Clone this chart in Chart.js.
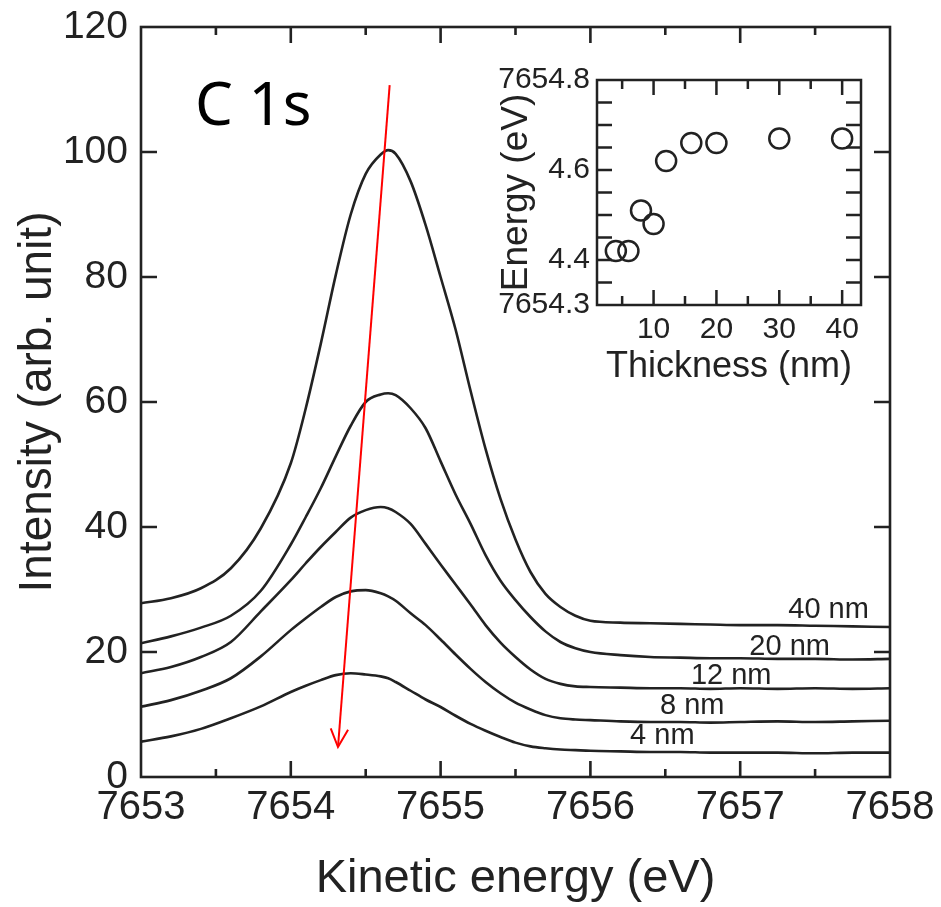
<!DOCTYPE html>
<html>
<head>
<meta charset="utf-8">
<title>C 1s</title>
<script src="https://cdn.jsdelivr.net/npm/chart.js@4.4.1/dist/chart.umd.min.js"></script>
<style>
    body { margin: 0; background: #fff; }
    #wrap { position: relative; width: 941px; height: 907px; }
    #mainChart { position: absolute; left: 0; top: 0; }
    #insetChart { position: absolute; left: 470px; top: 50px; }
</style>
</head>
<body>
<div id="wrap">
    <canvas id="mainChart" width="941" height="907"></canvas>
    <canvas id="insetChart" width="410" height="350"></canvas>
</div>
<script>
// -----------------------------------------
// Daten: Spektren
// -----------------------------------------
const energy = [7653.0, 7653.2, 7653.4, 7653.6, 7653.8,
    7654.0, 7654.1, 7654.2, 7654.3, 7654.4, 7654.5, 7654.6, 7654.65, 7654.7, 7654.8, 7654.9,
    7655.0, 7655.1, 7655.2, 7655.3, 7655.4, 7655.5, 7655.6, 7655.7, 7655.8, 7655.9,
    7656.0, 7656.2, 7656.4, 7656.6, 7656.8, 7657.0, 7657.25, 7657.5, 7657.75, 7658.0];

const int40 = [27.8, 28.6, 30.2, 33.4, 39.8,
    50.2, 59.0, 69.3, 80.3, 90.0, 96.5, 99.6, 100.3, 99.7, 95.3, 88.3,
    80.0, 71.6, 61.8, 52.5, 44.5, 38.0, 32.8, 29.3, 27.2, 25.8,
    25.0, 24.7, 24.6, 24.5, 24.4, 24.3, 24.3, 24.2, 24.1, 24.0];

const int20 = [21.4, 22.5, 23.9, 25.8, 29.8,
    37.2, 41.6, 46.2, 51.3, 56.2, 60.0, 61.2, 61.4, 61.1, 59.0, 55.8,
    50.5, 45.2, 40.5, 35.5, 31.4, 28.3, 25.6, 23.3, 21.6, 20.6,
    20.0, 19.5, 19.2, 19.1, 19.0, 19.0, 18.9, 18.9, 18.8, 18.9];

const int12 = [16.6, 17.6, 19.2, 21.6, 26.5,
    31.5, 34.2, 36.8, 39.2, 41.5, 42.7, 43.2, 43.0, 42.4, 40.5, 37.3,
    34.0, 30.8, 27.6, 24.3, 21.5, 19.2, 17.2, 15.7, 14.9, 14.5,
    14.4, 14.3, 14.2, 14.2, 14.1, 14.2, 14.1, 14.2, 14.1, 14.2];

const int8 = [11.25, 12.3, 13.8, 15.8, 19.3,
    23.5, 25.4, 27.2, 28.8, 29.7, 29.9, 29.4, 28.9, 28.2, 26.2, 24.3,
    22.0, 19.6, 17.3, 15.2, 13.4, 11.9, 10.8, 9.9, 9.4, 9.2,
    9.1, 8.9, 8.8, 8.8, 8.7, 8.8, 8.9, 8.8, 8.9, 9.0];

const int4 = [5.65, 6.5, 7.7, 9.4, 11.3,
    13.6, 14.6, 15.5, 16.3, 16.6, 16.4, 16.1, 15.8, 15.2, 13.8, 12.4,
    11.2, 9.8, 8.5, 7.4, 6.4, 5.5, 4.9, 4.6, 4.4, 4.3,
    4.2, 4.1, 4.0, 4.0, 3.9, 3.9, 3.9, 3.8, 3.9, 3.9];

// Beschriftungen der Kurven (Mitte x, Mitte y in Datenkoordinaten)
const curveLabels = ["40 nm", "20 nm", "12 nm", "8 nm", "4 nm"];
const curveLabelX = [7657.59, 7657.33, 7656.94, 7656.68, 7656.48];
const curveLabelY = [26.8, 20.8, 16.2, 11.3, 6.5];

// roter Pfeil
const arrowX = [7654.66, 7654.315];
const arrowY = [110.7, 4.8];

// Achsen Hauptdiagramm
const xTicksMain = [7653, 7654, 7655, 7656, 7657, 7658];
const xMinorMain = [7653.5, 7654.5, 7655.5, 7656.5, 7657.5];
const yTicksMain = [20, 40, 60, 80, 100];

// -----------------------------------------
// Daten: Inset
// -----------------------------------------
const thickness = [4, 6, 8, 10, 12, 16, 20, 30, 40];
const peakEnergy = [7654.42, 7654.42, 7654.51, 7654.48, 7654.62, 7654.66, 7654.66, 7654.67, 7654.67];

const xTicksInset = [10, 20, 30, 40];
const xMinorInset = [5, 15, 25, 35];
const yTicksInset = [7654.35, 7654.4, 7654.45, 7654.5, 7654.55, 7654.6, 7654.65, 7654.7, 7654.75];
const yLabelValues = [7654.3, 7654.4, 7654.6, 7654.8];
const yLabelTexts = ["7654.3", "4.4", "4.6", "7654.8"];

const ink = "#222222";
const fontFamily = "'Liberation Sans', Arial, sans-serif";

function pts(xs, ys) {
    return xs.map((x, i) => ({ x: x, y: ys[i] }));
}

// -----------------------------------------
// Rahmen und Ticks nach innen
// -----------------------------------------
const frameTicks = {
    id: "frameTicks",
    afterDraw(chart, args, o) {
        const { ctx, chartArea: a, scales } = chart;
        ctx.save();
        ctx.strokeStyle = ink;
        ctx.lineWidth = o.lineWidth;
        ctx.strokeRect(a.left, a.top, a.right - a.left, a.bottom - a.top);
        ctx.beginPath();
        const xMarks = (vals, len) => {
            vals.forEach(v => {
                const px = scales.x.getPixelForValue(v);
                ctx.moveTo(px, a.bottom); ctx.lineTo(px, a.bottom - len);
                ctx.moveTo(px, a.top); ctx.lineTo(px, a.top + len);
            });
        };
        const yMarks = (vals, len) => {
            vals.forEach(v => {
                const py = scales.y.getPixelForValue(v);
                ctx.moveTo(a.left, py); ctx.lineTo(a.left + len, py);
                ctx.moveTo(a.right, py); ctx.lineTo(a.right - len, py);
            });
        };
        xMarks(o.xMajor, o.majorLen);
        xMarks(o.xMinor, o.minorLen);
        yMarks(o.yMajor, o.yLen);
        ctx.stroke();
        ctx.restore();
    }
};

// -----------------------------------------
// Texte und Pfeilspitze
// -----------------------------------------
const annotations = {
    id: "annotations",
    afterDraw(chart) {
        const { ctx, scales: { x, y } } = chart;
        ctx.save();

        ctx.fillStyle = "#000";
        ctx.font = "60px 'Noto Sans', 'Open Sans', sans-serif";
        ctx.textAlign = "left";
        ctx.textBaseline = "alphabetic";
        ctx.fillText("C 1s", x.getPixelForValue(7653.36), y.getPixelForValue(104.3));

        ctx.fillStyle = ink;
        ctx.font = "29px " + fontFamily;
        ctx.textAlign = "center";
        ctx.textBaseline = "middle";
        curveLabels.forEach((t, i) => {
            ctx.fillText(t, x.getPixelForValue(curveLabelX[i]), y.getPixelForValue(curveLabelY[i]));
        });

        // Pfeilspitze
        const x0 = x.getPixelForValue(arrowX[0]), y0 = y.getPixelForValue(arrowY[0]);
        const x1 = x.getPixelForValue(arrowX[1]), y1 = y.getPixelForValue(arrowY[1]);
        const ang = Math.atan2(y1 - y0, x1 - x0);
        const len = 20, spread = 0.45;
        ctx.strokeStyle = "#ff0000";
        ctx.lineWidth = 2;
        ctx.beginPath();
        ctx.moveTo(x1 - len * Math.cos(ang - spread), y1 - len * Math.sin(ang - spread));
        ctx.lineTo(x1, y1);
        ctx.lineTo(x1 - len * Math.cos(ang + spread), y1 - len * Math.sin(ang + spread));
        ctx.stroke();
        ctx.restore();
    }
};

function curve(data) {
    return {
        data: pts(energy, data),
        borderColor: ink,
        borderWidth: 2.6,
        pointRadius: 0,
        cubicInterpolationMode: "monotone",
        fill: false
    };
}

// -----------------------------------------
// Hauptdiagramm
// -----------------------------------------
new Chart(document.getElementById("mainChart"), {
    type: "line",
    data: {
        datasets: [
            {
                data: pts(arrowX, arrowY),
                borderColor: "#ff0000",
                borderWidth: 2,
                pointRadius: 0,
                tension: 0
            },
            curve(int40), curve(int20), curve(int12), curve(int8), curve(int4)
        ]
    },
    options: {
        responsive: false,
        animation: false,
        devicePixelRatio: 1,
        layout: { padding: { left: 0, top: 27, right: 51, bottom: 0 } },
        plugins: {
            legend: { display: false },
            tooltip: { enabled: false },
            frameTicks: {
                lineWidth: 2.6,
                xMajor: xTicksMain.slice(1, -1), xMinor: xMinorMain,
                yMajor: yTicksMain,
                majorLen: 16, minorLen: 8, yLen: 16
            }
        },
        scales: {
            x: {
                type: "linear",
                min: 7653, max: 7658,
                afterBuildTicks: s => { s.ticks = xTicksMain.map(v => ({ value: v })); },
                afterFit: s => { s.height = 130; s.paddingLeft = 0; s.paddingRight = 0; },
                grid: { display: false, drawTicks: false },
                border: { display: false },
                ticks: {
                    color: ink, padding: 7, maxRotation: 0, autoSkip: false,
                    font: { family: fontFamily, size: 40 },
                    callback: v => String(v)
                },
                title: {
                    display: true, text: "Kinetic energy (eV)", color: ink,
                    font: { family: fontFamily, size: 47 },
                    padding: { top: 0, bottom: 0 }
                }
            },
            y: {
                min: 0, max: 120,
                ticks: {
                    stepSize: 20, color: ink, padding: 13,
                    font: { family: fontFamily, size: 39 },
                    callback: v => String(v)
                },
                afterFit: s => { s.width = 141; s.paddingTop = 0; s.paddingBottom = 0; },
                grid: { display: false, drawTicks: false },
                border: { display: false },
                title: {
                    display: true, text: "Intensity (arb. unit)", color: ink,
                    font: { family: fontFamily, size: 46 },
                    padding: { top: 11, bottom: 0 }
                }
            }
        }
    },
    plugins: [frameTicks, annotations]
});

// -----------------------------------------
// Inset: Peakposition gegen Schichtdicke
// -----------------------------------------
new Chart(document.getElementById("insetChart"), {
    type: "scatter",
    data: {
        datasets: [{
            data: pts(thickness, peakEnergy),
            pointStyle: "circle",
            pointRadius: 10,
            borderWidth: 2.5,
            borderColor: ink,
            backgroundColor: "rgba(0,0,0,0)"
        }]
    },
    options: {
        responsive: false,
        animation: false,
        devicePixelRatio: 1,
        layout: { padding: { left: 0, top: 30, right: 19, bottom: 0 } },
        plugins: {
            legend: { display: false },
            tooltip: { enabled: false },
            frameTicks: {
                lineWidth: 2.5,
                xMajor: xTicksInset, xMinor: xMinorInset,
                yMajor: yTicksInset,
                majorLen: 15, minorLen: 9, yLen: 15
            }
        },
        scales: {
            x: {
                type: "linear",
                min: 1, max: 43,
                afterBuildTicks: s => { s.ticks = xTicksInset.map(v => ({ value: v })); },
                afterFit: s => { s.height = 95; s.paddingLeft = 0; s.paddingRight = 0; },
                grid: { display: false, drawTicks: false },
                border: { display: false },
                ticks: {
                    color: ink, padding: 7, maxRotation: 0, autoSkip: false,
                    font: { family: fontFamily, size: 30 },
                    callback: v => String(v)
                },
                title: {
                    display: true, text: "Thickness (nm)", color: ink,
                    font: { family: fontFamily, size: 36 },
                    padding: { top: 0, bottom: 11 }
                }
            },
            y: {
                min: 7654.3, max: 7654.8,
                afterBuildTicks: s => { s.ticks = yLabelValues.map(v => ({ value: v })); },
                afterFit: s => { s.width = 127; s.paddingTop = 0; s.paddingBottom = 0; },
                grid: { display: false, drawTicks: false },
                border: { display: false },
                ticks: {
                    color: ink, padding: 7, autoSkip: false,
                    font: { family: fontFamily, size: 30 },
                    callback: (v, i) => yLabelTexts[i]
                },
                title: {
                    display: true, text: "Energy (eV)", color: ink,
                    font: { family: fontFamily, size: 37 },
                    padding: { top: 25, bottom: 0 }
                }
            }
        }
    },
    plugins: [frameTicks]
});
</script>
</body>
</html>
